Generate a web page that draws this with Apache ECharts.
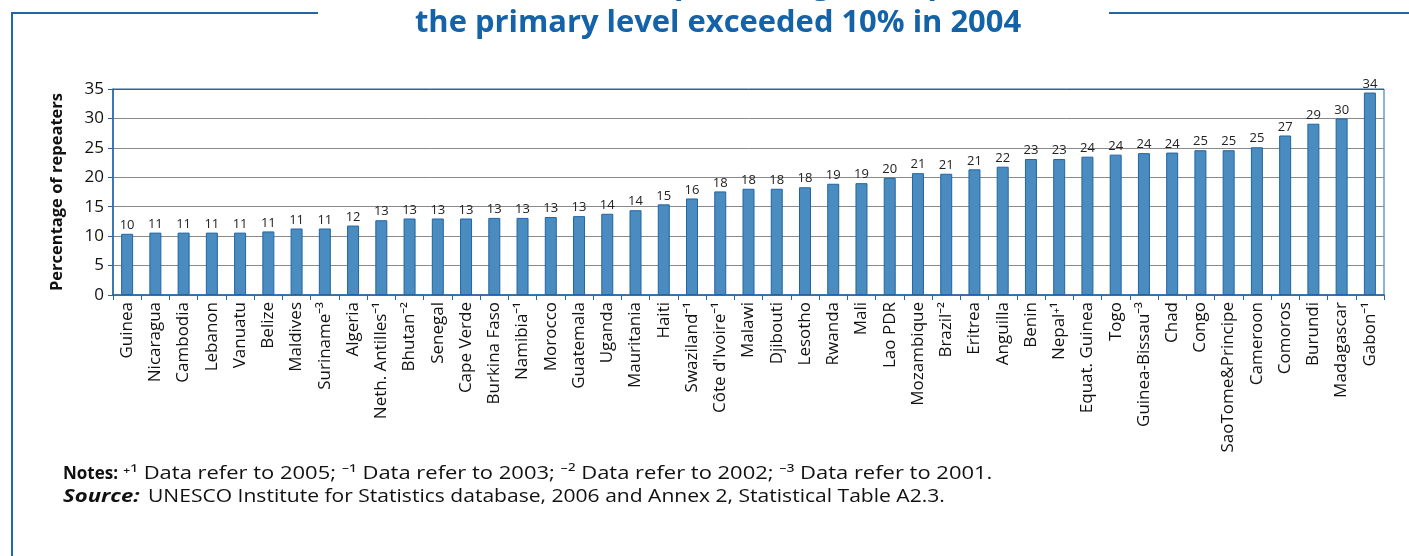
<!DOCTYPE html>
<html><head><meta charset="utf-8">
<script src="https://cdn.jsdelivr.net/npm/echarts@6/dist/echarts.min.js"></script>
<style>html,body{margin:0;padding:0;background:#fff}#c{width:1409px;height:556px}</style>
</head><body><div id="c"></div>
<script>
const categories = ["Guinea","Nicaragua","Cambodia","Lebanon","Vanuatu","Belize","Maldives","Suriname⁻³","Algeria","Neth. Antilles⁻¹","Bhutan⁻²","Senegal","Cape Verde","Burkina Faso","Namibia⁻¹","Morocco","Guatemala","Uganda","Mauritania","Haiti","Swaziland⁻¹","Côte d'Ivoire⁻¹","Malawi","Djibouti","Lesotho","Rwanda","Mali","Lao PDR","Mozambique","Brazil⁻²","Eritrea","Anguilla","Benin","Nepal⁺¹","Equat. Guinea","Togo","Guinea-Bissau⁻³","Chad","Congo","SaoTome&Principe","Cameroon","Comoros","Burundi","Madagascar","Gabon⁻¹"];
const repeaters = [10.4,10.6,10.6,10.6,10.6,10.8,11.3,11.3,11.8,12.7,13.0,13.0,13.0,13.1,13.1,13.25,13.4,13.8,14.4,15.4,16.4,17.6,18.05,18.05,18.3,18.9,19.0,19.9,20.7,20.6,21.35,21.8,23.1,23.1,23.5,23.85,24.1,24.2,24.6,24.6,25.1,27.1,29.1,30.0,34.4];
const yTicks = [0,5,10,15,20,25,30,35];
const titleLines = ["Countries where the percentage of repeaters at","the primary level exceeded 10% in 2004"];
const notesLabel = "Notes:";
const notesText = "⁺¹ Data refer to 2005; ⁻¹ Data refer to 2003; ⁻² Data refer to 2002; ⁻³ Data refer to 2001.";
const sourceLabel = "Source:";
const sourceText = "UNESCO Institute for Statistics database, 2006 and Annex 2, Statistical Table A2.3.";

const F = '"Open Sans", "Noto Sans", sans-serif';
const blue = '#1f67a8';
const chart = echarts.init(document.getElementById('c'));
chart.setOption({
  animation: false,
  grid: {left: 113, right: 25, top: 89, bottom: 261, show: true, borderColor: blue, borderWidth: 1, containLabel: false},
  xAxis: {
    type: 'category', data: categories,
    axisLine: {lineStyle: {color: blue, width: 1.5}},
    axisTick: {show: true, length: 5, lineStyle: {color: blue}},
    axisLabel: {rotate: 90, interval: 0, fontFamily: F, fontSize: 17, color: '#111', margin: 7}
  },
  yAxis: {
    type: 'value', min: yTicks[0], max: yTicks[yTicks.length-1], interval: 5,
    name: 'Percentage of repeaters', nameLocation: 'middle', nameGap: 47,
    nameTextStyle: {fontFamily: F, fontSize: 16.5, fontWeight: 'bold', color: '#111'},
    axisLine: {show: true, lineStyle: {color: blue, width: 1.5}},
    axisTick: {show: true, length: 5, lineStyle: {color: blue}},
    axisLabel: {fontFamily: F, fontSize: 17, color: '#111', margin: 9},
    splitLine: {show: true, lineStyle: {color: ['#8a8a8a','#8a8a8a','#8a8a8a','#8a8a8a','#8a8a8a','#8a8a8a','#8a8a8a', blue], width: 1}}
  },
  series: [{
    type: 'bar', data: repeaters, barWidth: 12,
    itemStyle: {color: '#4a8cc0', borderColor: '#2165a4', borderWidth: 1},
    label: {show: true, position: 'top', distance: 2, fontFamily: F, fontSize: 13, color: '#222',
      formatter: p => Math.round(p.value)}
  }],
  graphic: [
    {type: 'line', shape: {x1: 11, y1: 13, x2: 318, y2: 13}, style: {stroke: blue, lineWidth: 2}},
    {type: 'line', shape: {x1: 1109, y1: 13, x2: 1409, y2: 13}, style: {stroke: blue, lineWidth: 2}},
    {type: 'line', shape: {x1: 12, y1: 12, x2: 12, y2: 556}, style: {stroke: blue, lineWidth: 2}},
    {type: 'text', x: 718, y: -14.5, scaleX: 1.03, style: {text: titleLines[0], fill: '#1463a8', font: 'bold 30px ' + F, textAlign: 'center', textVerticalAlign: 'middle'}},
    {type: 'text', x: 718, y: 23, scaleX: 1.03, style: {text: titleLines[1], fill: '#1463a8', font: 'bold 30px ' + F, textAlign: 'center', textVerticalAlign: 'middle'}},
    {type: 'text', x: 63, y: 474, style: {text: notesLabel, font: 'bold 17px ' + F, fill: '#111', textVerticalAlign: 'middle'}},
    {type: 'text', x: 123, y: 474, scaleX: 1.22, style: {text: notesText, font: '18px ' + F, fill: '#111', textVerticalAlign: 'middle'}},
    {type: 'text', x: 63, y: 497, scaleX: 1.3, style: {text: sourceLabel, font: 'italic bold 17px ' + F, fill: '#111', textVerticalAlign: 'middle'}},
    {type: 'text', x: 148, y: 497, scaleX: 1.17, style: {text: sourceText, font: '18px ' + F, fill: '#111', textVerticalAlign: 'middle'}}
  ]
});
</script></body></html>
